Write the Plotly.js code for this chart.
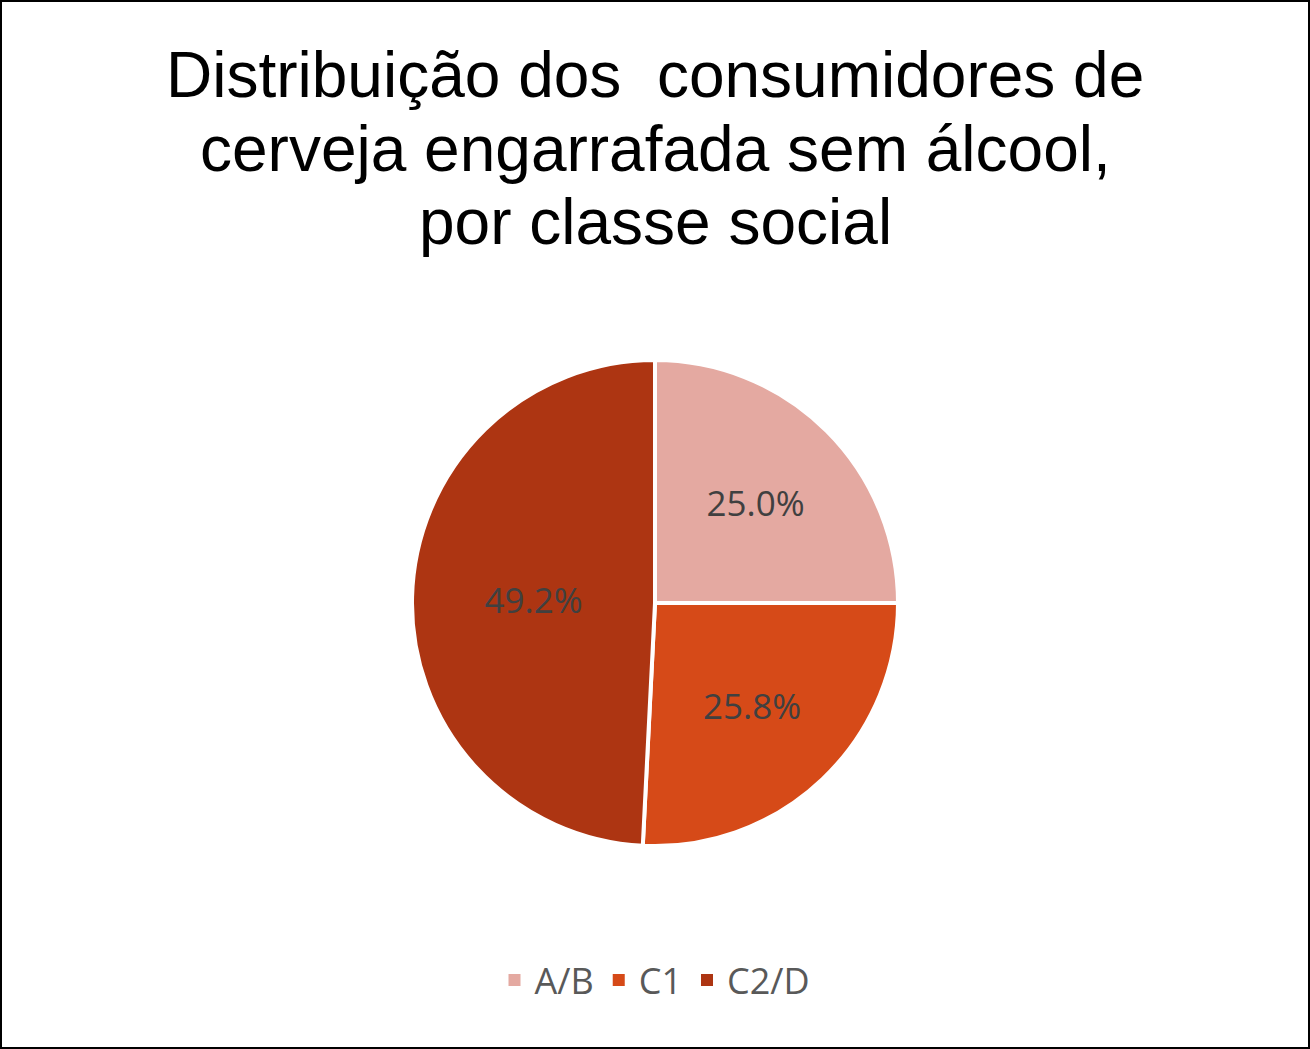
<!DOCTYPE html>
<html><head><meta charset="utf-8">
<script src="https://cdn.plot.ly/plotly-3.0.1.min.js"></script>
<style>body{margin:0;background:#fff}#wrap{width:1310px;height:1049px;box-sizing:border-box;border:2px solid #000}#chart{width:1306px;height:1045px}</style>
</head><body><div id="wrap"><div id="chart"></div></div>
<script>
const categories = ["A/B", "C1", "C2/D"];
const values = [25.0, 25.8, 49.2];
const colors = ["#E4A9A1", "#D64A18", "#AD3512"];
const titleLines = ["Distribuição dos  consumidores de", "cerveja engarrafada sem álcool,", "por classe social"];

const W = 1306, H = 1045, cx = 653, cy = 601, r = 243;
const titleFont = {family: "Liberation Sans, Arial, sans-serif", size: 64, color: "#000"};
const annotations = titleLines.map((t, i) => ({
  text: t, xref: "paper", yref: "paper", x: 0.5, xanchor: "center",
  y: 1 - (73 + i * 73.6) / H, yanchor: "middle", showarrow: false, font: titleFont
}));
Plotly.newPlot("chart", [{
  type: "pie",
  labels: categories,
  values: values,
  sort: false,
  direction: "clockwise",
  rotation: 0,
  marker: {colors: colors, line: {color: "#fff", width: 4}},
  texttemplate: "%{value:.1f}%",
  textinfo: "text",
  textposition: "inside",
  insidetextorientation: "horizontal",
  textfont: {family: "Open Sans, Noto Sans, sans-serif", size: 35, color: "#404040"},
  hoverinfo: "label+value",
  domain: {x: [(cx - r) / W, (cx + r) / W], y: [(H - cy - r) / H, (H - cy + r) / H]}
}], {
  width: W, height: H,
  margin: {l: 0, r: 0, t: 0, b: 0},
  paper_bgcolor: "#fff",
  annotations: annotations,
  showlegend: true,
  legend: {orientation: "h", x: 0.5, xanchor: "center", y: (H - 978) / H, yanchor: "middle",
    font: {family: "Open Sans, Noto Sans, sans-serif", size: 36, color: "#595959"}, itemwidth: 30}
}, {displayModeBar: false}).then(gd => {
  gd.querySelectorAll(".legendpoints path").forEach(p => p.setAttribute("d", "M8,8H-8V-8H8Z"));
});
</script></body></html>
